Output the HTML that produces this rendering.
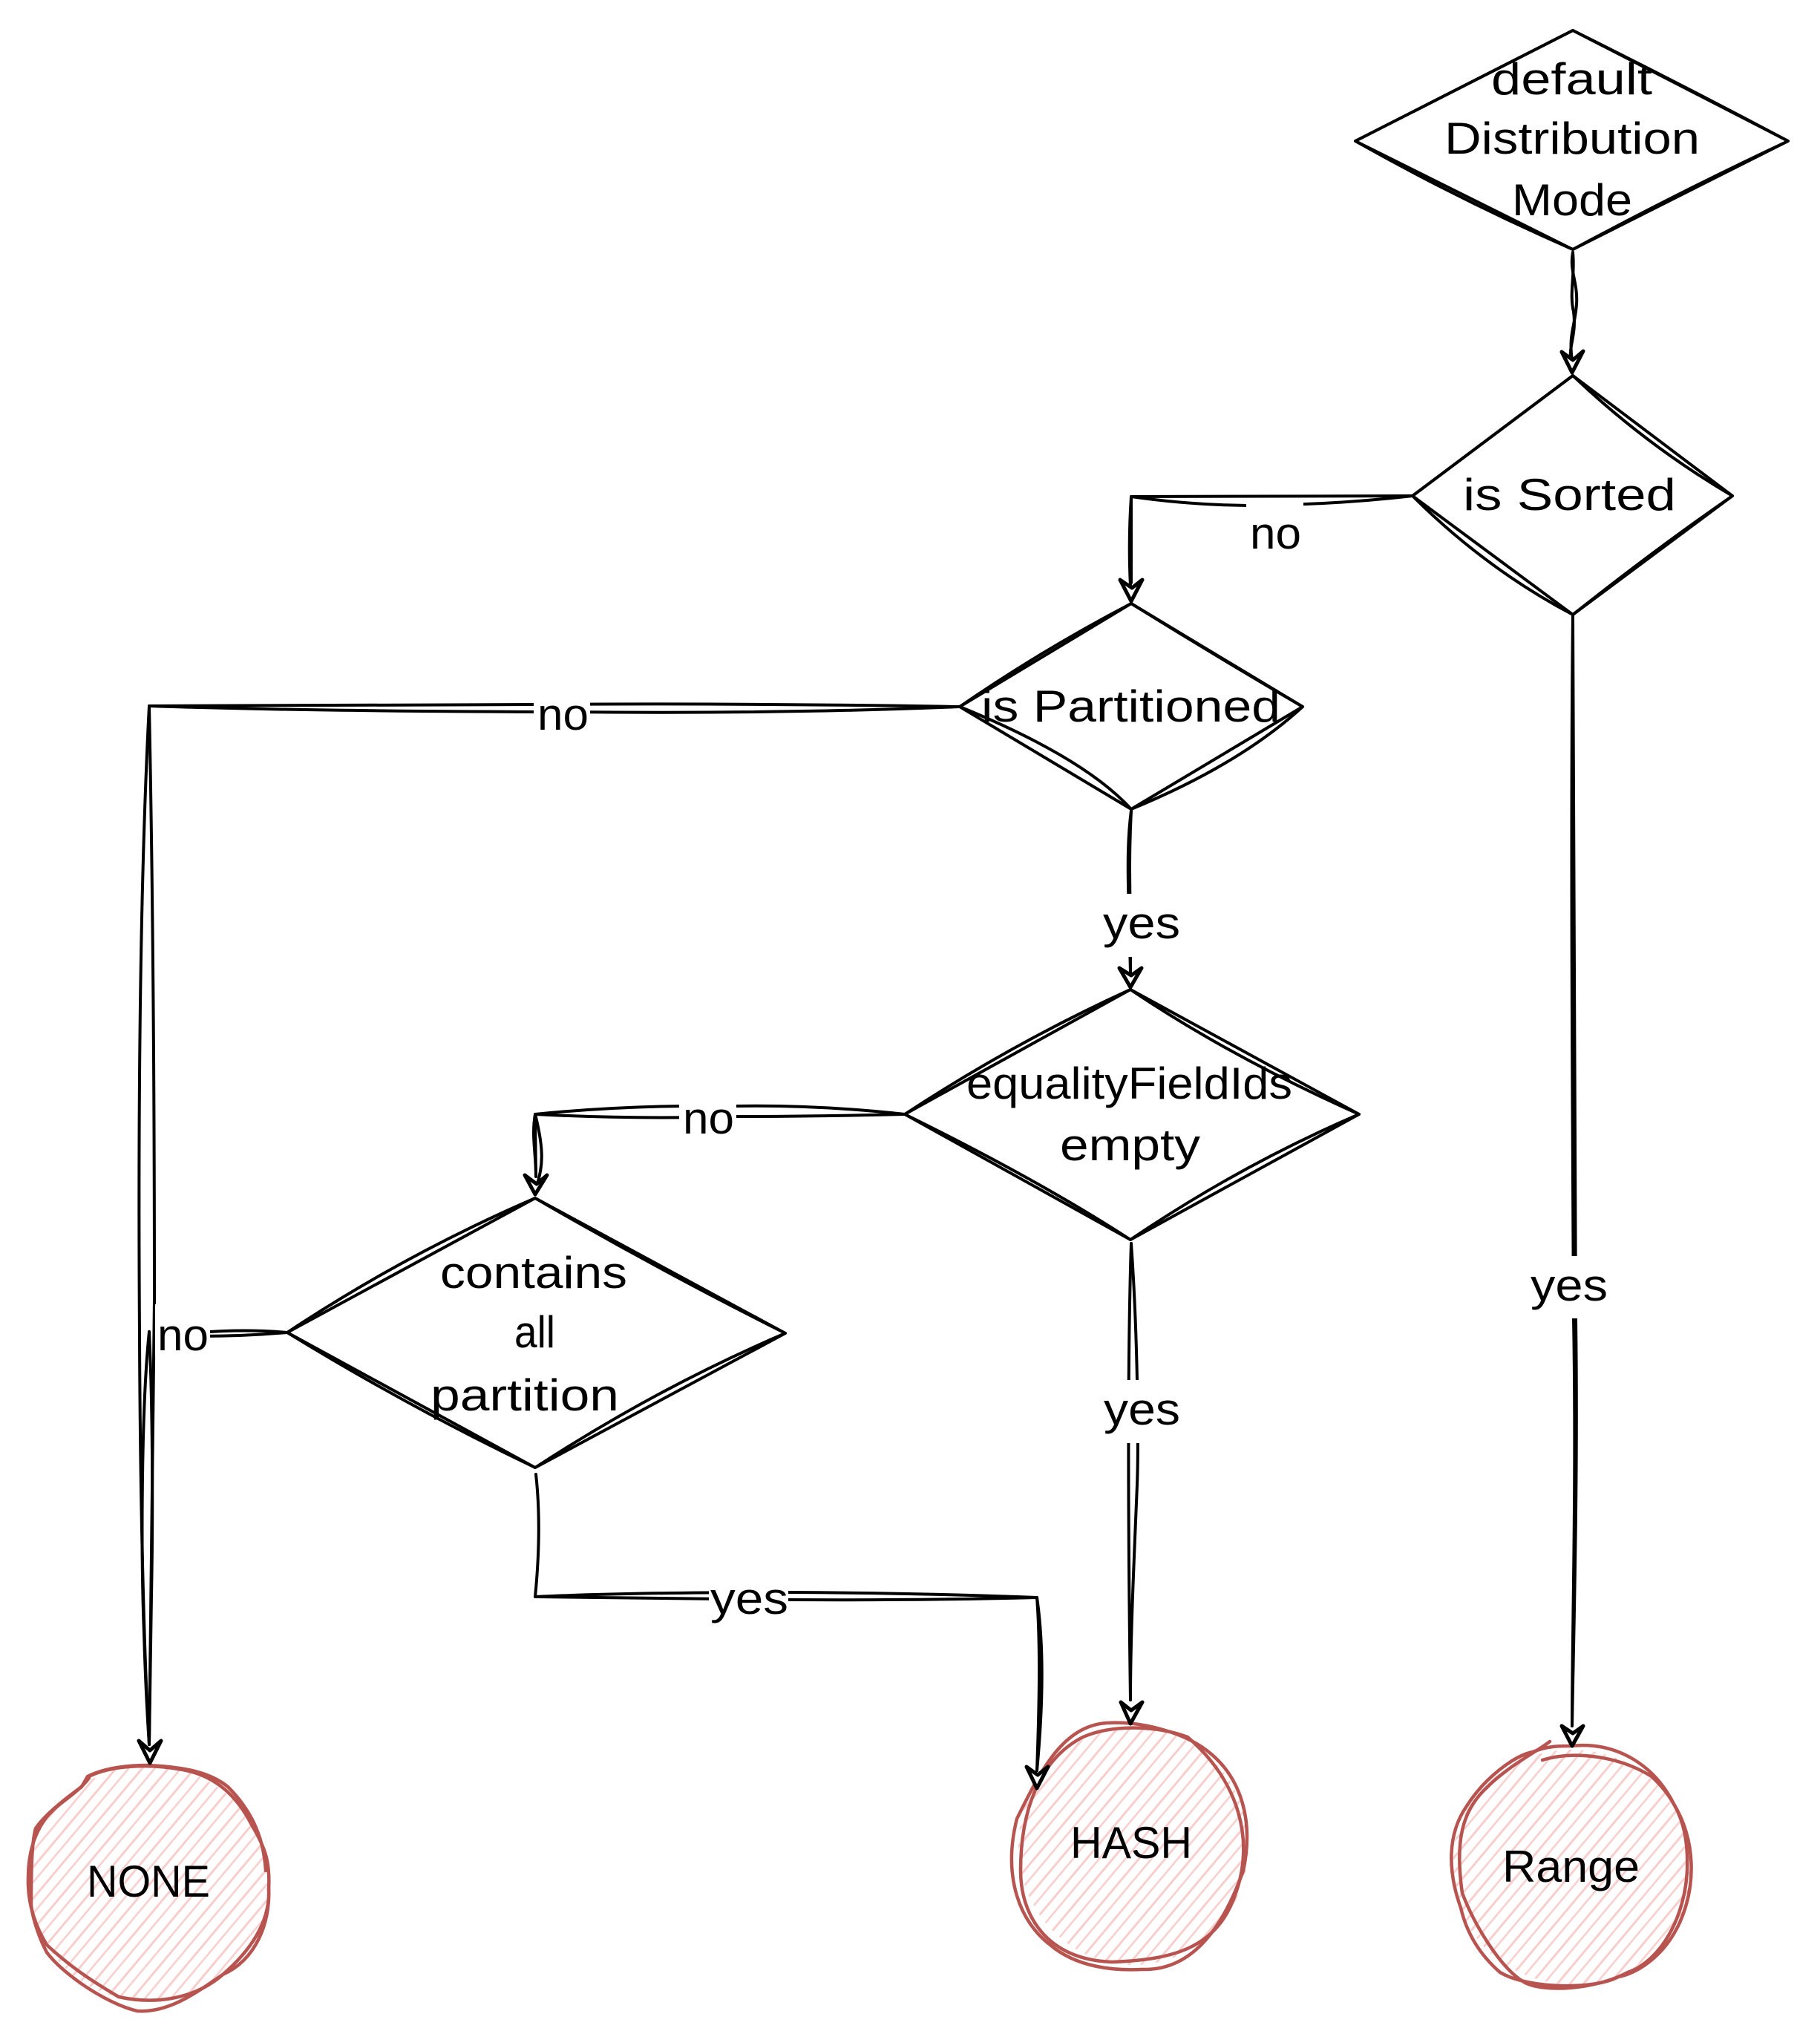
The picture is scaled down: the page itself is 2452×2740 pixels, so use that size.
<!DOCTYPE html>
<html>
<head>
<meta charset="utf-8">
<style>
html,body{margin:0;padding:0;background:#fff}
svg{display:block}
text{font-family:"Liberation Sans",sans-serif;font-size:60px;fill:#000;stroke:none}
.e{fill:none;stroke:#000;stroke-width:4;stroke-linecap:round;stroke-linejoin:round}
.c{fill:none;stroke:#b85450;stroke-width:4.5;stroke-linecap:round;stroke-linejoin:round}
.h{fill:#fff;stroke:#000;stroke-width:5;stroke-linejoin:round}
</style>
</head>
<body>
<svg xmlns="http://www.w3.org/2000/svg" width="2452" height="2740" viewBox="0 0 2452 2740">
<defs>
<pattern id="hat" patternUnits="userSpaceOnUse" width="27" height="40" patternTransform="rotate(40)">
<line x1="4" y1="0" x2="4" y2="40" stroke="#f8cecc" stroke-width="3"/>
<line x1="17" y1="0" x2="17" y2="40" stroke="#f8cecc" stroke-width="2.5"/>
</pattern>
</defs>
<rect width="2452" height="2740" fill="#fff"/>

<!-- circles -->
<ellipse cx="200" cy="2537" rx="161" ry="159" fill="url(#hat)"/>
<ellipse cx="1527" cy="2487" rx="155" ry="160" fill="url(#hat)"/>
<ellipse cx="2118" cy="2515" rx="162" ry="158" fill="url(#hat)"/>
<path class="c" d="M120 2393 C150 2378 200 2376 240 2383 C290 2390 320 2420 340 2460 C358 2490 364 2510 362 2545 C364 2590 345 2640 300 2660 C260 2695 205 2700 160 2690 C117 2665 90 2645 63 2620 C45 2590 37 2560 38 2530 C38 2490 50 2460 70 2440 C85 2425 105 2415 120 2395"/>
<path class="c" d="M358 2520 C355 2470 335 2435 307 2407 C280 2385 240 2380 200 2378 C170 2378 140 2382 118 2393 L110 2407 C85 2425 60 2445 48 2463 C42 2485 42 2530 42 2567 C45 2590 55 2615 63 2630 C85 2660 145 2700 185 2709 C230 2712 270 2680 300 2660 C335 2630 365 2590 362 2543"/>
<path class="c" d="M1600 2340 C1560 2325 1500 2322 1459 2340 C1400 2370 1375 2440 1375 2520 C1375 2580 1410 2640 1498 2643 C1580 2640 1640 2625 1665 2550 C1690 2480 1670 2400 1600 2340"/>
<path class="c" d="M1491 2321 C1430 2325 1400 2390 1370 2450 C1350 2530 1375 2590 1415 2620 C1450 2650 1500 2655 1539 2653 C1610 2655 1650 2590 1675 2520 C1690 2450 1670 2395 1632 2363 C1600 2335 1540 2318 1491 2321"/>
<path class="c" d="M2078 2371 C2120 2358 2180 2365 2225 2393 C2265 2430 2275 2470 2273 2520 C2270 2580 2240 2640 2193 2657 C2150 2680 2080 2685 2053 2670 C2020 2650 1985 2590 1970 2550 C1960 2480 1970 2440 2001 2410 C2030 2380 2070 2360 2088 2346"/>
<path class="c" d="M2116 2352 C2180 2345 2230 2380 2255 2430 C2285 2480 2285 2540 2263 2590 C2240 2640 2200 2660 2180 2663 C2150 2680 2060 2680 2021 2657 C1990 2630 1975 2600 1968 2570 C1950 2520 1950 2470 1976 2433 C2000 2395 2040 2365 2065 2360 C2085 2352 2100 2352 2116 2352"/>

<!-- diamonds -->
<path class="e" d="M2119 41 L2409 190 L2119 336 L1826 190 Z"/>
<path class="e" d="M2119 41 Q2262 112 2409 190 Q2268 256 2119 336 Q1968 270 1826 190 Q1968 118 2119 41"/>
<path class="e" d="M2119 506 L2334 668 L2119 828 L1903 668 Z"/>
<path class="e" d="M2119 506 Q2218 600 2334 668 Q2230 740 2119 828 Q2000 765 1903 668 Q2005 592 2119 506"/>
<path class="e" d="M1524 813 L1755 952 L1524 1090 L1293 952 Z"/>
<path class="e" d="M1524 813 Q1640 885 1755 952 Q1670 1030 1524 1090 Q1460 1020 1293 952 Q1405 875 1524 813"/>
<path class="e" d="M1523 1333 L1831 1501 L1523 1670 L1219 1501 Z"/>
<path class="e" d="M1523 1333 Q1660 1425 1831 1501 Q1670 1570 1523 1670 Q1400 1590 1219 1501 Q1365 1405 1523 1333"/>
<path class="e" d="M721 1614 L1058 1796 L721 1977 L387 1795 Z"/>
<path class="e" d="M721 1614 Q890 1712 1058 1796 Q885 1870 721 1977 Q550 1895 387 1795 Q545 1690 721 1614"/>

<!-- edges -->
<path class="e" d="M2119 340 C2114 365 2126 380 2124 410 C2122 440 2113 450 2118 485"/>
<path class="e" d="M2119 340 C2122 370 2114 395 2120 420 C2124 450 2114 465 2116 483"/>

<path class="e" d="M1903 668 L1524 669 L1524 785"/>
<path class="e" d="M1903 668 Q1800 680 1680 681 Q1600 680 1524 669 Q1520 730 1523 790"/>

<path class="e" d="M1293 952 Q1000 947 719 949 Q400 950 201 951"/>
<path class="e" d="M1293 952 Q1050 962 760 959 Q400 958 201 951"/>
<path class="e" d="M201 951 C188 1200 186 1500 188 1800 C189 2050 195 2250 201 2350"/>
<path class="e" d="M201 951 C206 1200 208 1500 208 1750 C206 2000 204 2200 201 2350"/>
<path class="e" d="M201 1794 C190 1900 190 2100 194 2200 C196 2270 199 2320 201 2350"/>
<path class="e" d="M201 1794 C206 1900 206 2050 204 2150 C203 2250 202 2300 201 2350"/>

<path class="e" d="M1524 1092 C1519 1130 1519 1170 1521 1230 L1523 1310"/>
<path class="e" d="M1524 1092 C1522 1130 1521 1170 1523 1230 L1523 1308"/>

<path class="e" d="M1219 1501 Q1100 1488 990 1490 Q850 1488 721 1501 L722 1585"/>
<path class="e" d="M1219 1501 Q1100 1504 990 1504 Q850 1508 721 1501 C716 1530 722 1555 722 1583"/>
<path class="e" d="M721 1501 C732 1545 733 1570 722 1600"/>

<path class="e" d="M1524 1675 C1520 1800 1519 2000 1523 2290"/>
<path class="e" d="M1524 1675 C1533 1800 1534 1950 1532 2000 C1528 2100 1523 2200 1523 2290"/>

<path class="e" d="M722 1986 C728 2040 726 2100 721 2151 Q850 2145 1060 2145 Q1250 2146 1397 2152"/>
<path class="e" d="M721 2151 Q850 2153 1060 2155 Q1250 2156 1397 2152 C1407 2220 1405 2300 1397 2385"/>
<path class="e" d="M1397 2152 C1402 2220 1400 2300 1397 2385"/>

<path class="e" d="M2119 830 C2116 1100 2118 1400 2120 1776 C2124 2000 2118 2200 2118 2325"/>
<path class="e" d="M2119 830 C2122 1100 2120 1500 2123 1776 C2126 2000 2120 2200 2118 2325"/>

<path class="e" d="M387 1795 Q330 1790 270 1795"/>
<path class="e" d="M387 1795 Q330 1800 270 1800"/>

<!-- label backgrounds -->
<rect x="1679" y="675" width="77" height="70" fill="#fff"/>
<rect x="719" y="935" width="76" height="55" fill="#fff"/>
<rect x="1480" y="1204" width="115" height="85" fill="#fff"/>
<rect x="915" y="1480" width="77" height="55" fill="#fff"/>
<rect x="1485" y="1859" width="110" height="85" fill="#fff"/>
<rect x="955" y="2130" width="107" height="80" fill="#fff"/>
<rect x="2060" y="1692" width="110" height="84" fill="#fff"/>
<rect x="209" y="1757" width="74" height="70" fill="#fff"/>

<!-- arrowheads -->
<path class="h" transform="translate(2118 502)" d="M-14 -28 L0 0 L15 -29 L1 -17 Z"/>
<path class="h" transform="translate(1524 810)" d="M-15 -29 L0 0 L15 -29 L1 -18 Z"/>
<path class="h" transform="translate(1523 1330)" d="M-15 -26 L0 0 L15 -26 L1 -16 Z"/>
<path class="h" transform="translate(721 1609)" d="M-14 -26 L0 0 L16 -26 L2 -14 Z"/>
<path class="h" transform="translate(1523 2322)" d="M-13 -29 L0 0 L16 -29 L1 -18 Z"/>
<path class="h" transform="translate(1397 2409)" d="M-14 -29 L0 0 L15 -29 L1 -18 Z"/>
<path class="h" transform="translate(2118 2352)" d="M-14 -27 L0 0 L15 -27 L1 -17 Z"/>
<path class="h" transform="translate(202 2375)" d="M-15 -30 L0 0 L15 -30 L0 -17 Z"/>

<!-- node labels -->
<text x="2009" y="127" textLength="217" lengthAdjust="spacingAndGlyphs">default</text>
<text x="1946" y="207" textLength="344" lengthAdjust="spacingAndGlyphs">Distribution</text>
<text x="2037" y="290" textLength="162" lengthAdjust="spacingAndGlyphs">Mode</text>
<text x="1971" y="687" textLength="287" lengthAdjust="spacingAndGlyphs">is Sorted</text>
<text x="1322" y="972" textLength="403" lengthAdjust="spacingAndGlyphs">is Partitioned</text>
<text x="1302" y="1480" textLength="439" lengthAdjust="spacingAndGlyphs">equalityFieldIds</text>
<text x="1428" y="1563" textLength="189" lengthAdjust="spacingAndGlyphs">empty</text>
<text x="593" y="1735" textLength="252" lengthAdjust="spacingAndGlyphs">contains</text>
<text x="693" y="1815" textLength="55" lengthAdjust="spacingAndGlyphs">all</text>
<text x="580" y="1900" textLength="254" lengthAdjust="spacingAndGlyphs">partition</text>
<text x="117" y="2555" textLength="166" lengthAdjust="spacingAndGlyphs">NONE</text>
<text x="1442" y="2503" textLength="164" lengthAdjust="spacingAndGlyphs">HASH</text>
<text x="2024" y="2535" textLength="185" lengthAdjust="spacingAndGlyphs">Range</text>

<!-- edge labels -->
<text x="1684" y="739" textLength="69" lengthAdjust="spacingAndGlyphs">no</text>
<text x="724" y="983" textLength="69" lengthAdjust="spacingAndGlyphs">no</text>
<text x="1486" y="1264" textLength="104" lengthAdjust="spacingAndGlyphs">yes</text>
<text x="920" y="1527" textLength="69" lengthAdjust="spacingAndGlyphs">no</text>
<text x="212" y="1819" textLength="69" lengthAdjust="spacingAndGlyphs">no</text>
<text x="1487" y="1919" textLength="103" lengthAdjust="spacingAndGlyphs">yes</text>
<text x="957" y="2174" textLength="105" lengthAdjust="spacingAndGlyphs">yes</text>
<text x="2062" y="1752" textLength="104" lengthAdjust="spacingAndGlyphs">yes</text>
</svg>
</body>
</html>
